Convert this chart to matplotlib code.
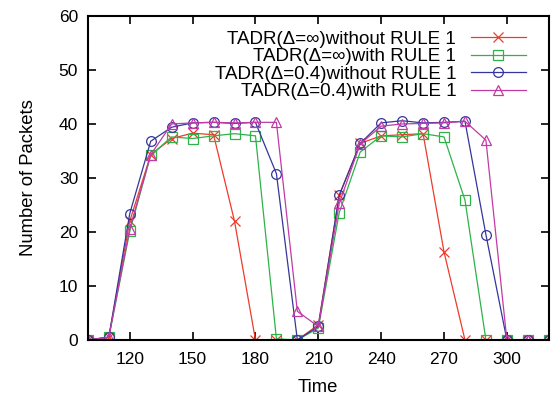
import matplotlib
matplotlib.use('Agg')
import matplotlib.pyplot as plt

plt.rcParams['font.family'] = ['Liberation Sans', 'DejaVu Sans']

time = [100, 110, 120, 130, 140, 150, 160, 170, 180, 190, 200, 210,
        220, 230, 240, 250, 260, 270, 280, 290, 300, 310, 320]

inf_without = [0, 0.5, 22.0, 34.3, 37.3, 38.3, 38.0, 22.0, 0, 0, 0, 2.8,
               26.8, 36.4, 37.8, 38.0, 38.2, 16.3, 0, 0, 0, 0, 0]
inf_with = [0, 0.5, 20.1, 34.2, 37.6, 37.3, 37.8, 38.2, 37.8, 0.2, 0, 2.2,
            23.6, 34.8, 37.8, 37.6, 38.2, 37.6, 25.9, 0, 0, 0, 0]
d04_without = [0, 0.5, 23.4, 36.8, 39.4, 40.2, 40.3, 40.1, 40.3, 30.8, 0, 2.5,
               26.8, 36.4, 40.2, 40.6, 40.2, 40.3, 40.5, 19.5, 0, 0, 0]
d04_with = [0, 0.5, 20.6, 34.3, 40.0, 40.2, 40.3, 40.2, 40.3, 40.3, 5.3, 2.5,
            25.3, 36.3, 39.6, 40.0, 40.1, 40.2, 40.5, 37.0, 0, 0, 0]

labels = [u'TADR(\u0394=\u221e)without RULE 1',
          u'TADR(\u0394=\u221e)with RULE 1',
          u'TADR(\u0394=0.4)without RULE 1',
          u'TADR(\u0394=0.4)with RULE 1']

fig = plt.figure(figsize=(5.56, 3.99), dpi=100)
ax = fig.add_axes([0.158, 0.148, 0.829, 0.812])

ax.plot(time, inf_without, color='#ee3b2b', lw=0.9, marker='x', ms=7, mew=0.9, label=labels[0])
ax.plot(time, inf_with, color='#2db34a', lw=0.9, marker='s', ms=6.5, mfc='none', mew=0.9, label=labels[1])
ax.plot(time, d04_without, color='#35359c', lw=0.9, marker='o', ms=7, mfc='none', mew=0.9, label=labels[2])
ax.plot(time, d04_with, color='#c23aa6', lw=0.9, marker='^', ms=7, mfc='none', mew=0.9, label=labels[3])

ax.set_xlim(100, 320)
ax.set_ylim(0, 60)
ax.set_xticks(range(120, 301, 30))
ax.set_yticks(range(0, 61, 10))
ax.tick_params(direction='in', length=6, width=1.2, top=True, right=True, labelsize=12.5)
ax.tick_params(axis='x', pad=9)
ax.tick_params(axis='y', pad=7)
for s in ax.spines.values():
    s.set_linewidth(1.5)
ax.set_xlabel('Time', fontsize=13.3, labelpad=8)
ax.set_ylabel('Number of Packets', fontsize=13.3, labelpad=16)

ax.legend(loc='upper right', frameon=False, markerfirst=False, fontsize=13.5,
          handlelength=2.9, handletextpad=0.8, labelspacing=0.02,
          borderaxespad=0.2, bbox_to_anchor=(0.974, 0.99))

fig.savefig('out.png', dpi=100)
